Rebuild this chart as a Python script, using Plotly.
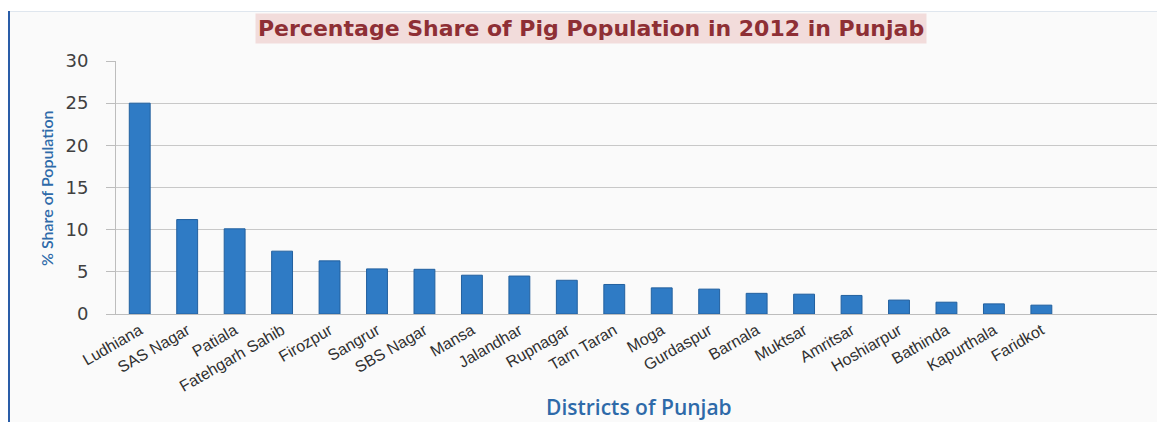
import plotly.graph_objects as go

districts = ["Ludhiana", "SAS Nagar", "Patiala", "Fatehgarh Sahib", "Firozpur", "Sangrur",
             "SBS Nagar", "Mansa", "Jalandhar", "Rupnagar", "Tarn Taran", "Moga", "Gurdaspur",
             "Barnala", "Muktsar", "Amritsar", "Hoshiarpur", "Bathinda", "Kapurthala", "Faridkot"]
share = [25.0, 11.2, 10.1, 7.45, 6.3, 5.35, 5.3, 4.6, 4.5, 4.0, 3.5, 3.1, 2.95,
         2.45, 2.35, 2.2, 1.65, 1.4, 1.2, 1.05]
y_ticks = [0, 5, 10, 15, 20, 25, 30]

# page body has an 8px margin; figure coordinates = screen coordinates - 8
OFF = 8
W, H = 1165 - OFF, 422 - OFF
ML, MR, MT, MB = 116 - OFF, 5, 61 - OFF, 108
pw = W - ML - MR
ph = H - MT - MB

def px_x(x):
    return (x - OFF - ML) / pw

def px_y(y):
    return (MT + ph - (y - OFF)) / ph

fig = go.Figure()
fig.add_trace(go.Bar(
    x=list(range(len(districts))), y=share, width=0.44,
    marker=dict(color="#2f7bc5", line=dict(color="#22609f", width=1)),
    hoverinfo="x+y",
))

fig.update_layout(
    width=W, height=H,
    margin=dict(l=ML, r=MR, t=MT, b=MB),
    paper_bgcolor="#fafafa",
    plot_bgcolor="#fafafa",
    showlegend=False,
    xaxis=dict(
        range=[-0.5, 21.5],
        tickmode="array",
        tickvals=list(range(len(districts))),
        ticktext=districts,
        tickangle=-30,
        tickfont=dict(family="Liberation Sans", size=16, color="#303030"),
        showgrid=False,
        showline=True, linecolor="#bdbdbd", linewidth=1,
        ticks="", zeroline=False,
    ),
    yaxis=dict(
        range=[0, 30],
        tickvals=y_ticks,
        tickfont=dict(family="DejaVu Sans", size=18, color="#404040"),
        showgrid=True, gridcolor="#c8c8c8", gridwidth=1,
        showline=True, linecolor="#bdbdbd", linewidth=1,
        ticks="outside", ticklen=9, tickcolor="#bdbdbd",
        ticklabelstandoff=14,
        zeroline=False,
    ),
)

# white strip above frame and frame lines
fig.add_shape(type="rect", xref="paper", yref="paper",
              x0=px_x(0), x1=px_x(1165), y0=px_y(11), y1=px_y(0),
              fillcolor="white", line_width=0, layer="below")
fig.add_shape(type="line", xref="paper", yref="paper",
              x0=px_x(8), x1=px_x(1165), y0=px_y(11.5), y1=px_y(11.5),
              line=dict(color="#dfe6ee", width=1))
fig.add_shape(type="line", xref="paper", yref="paper",
              x0=px_x(9), x1=px_x(9), y0=px_y(11), y1=px_y(422),
              line=dict(color="#2a5da8", width=2))

# title with shaded box
fig.add_annotation(
    xref="paper", yref="paper", x=px_x(591), y=px_y(28),
    text="<b>Percentage Share of Pig Population in 2012 in Punjab</b>",
    showarrow=False, xanchor="center", yanchor="middle",
    font=dict(family="DejaVu Sans", size=22, color="#8e2f35"),
    bgcolor="#f2dcdb", borderpad=2,
)
# axis titles
fig.add_annotation(
    xref="paper", yref="paper", x=px_x(46), y=px_y(188),
    text="% Share of Population", textangle=-90, showarrow=False,
    xanchor="center", yanchor="middle",
    font=dict(family="Lato", size=16, color="#2e6aa9", weight=600),
)
fig.add_annotation(
    xref="paper", yref="paper", x=px_x(639), y=px_y(407),
    text="Districts of Punjab", showarrow=False,
    xanchor="center", yanchor="middle",
    font=dict(family="Open Sans", size=21, color="#2e6aa9", weight=600),
)

fig.write_html("out.html")
